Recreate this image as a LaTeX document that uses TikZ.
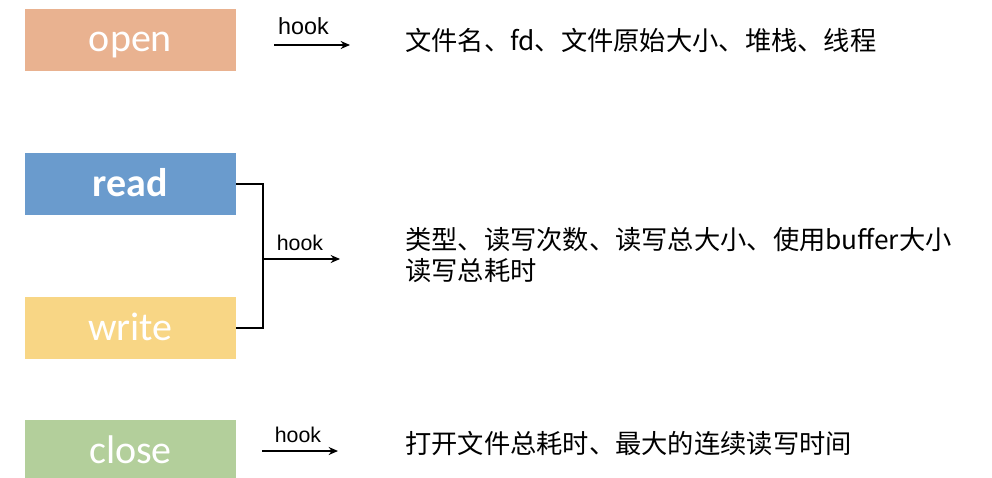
\documentclass[tikz,border=0pt]{standalone}
\usepackage{fontspec}
\usetikzlibrary{arrows.meta}
\newfontfamily\boxfont{Carlito}
\newfontfamily\hookfont{Liberation Sans}
\newfontfamily\cjk{Noto Sans CJK SC}
\definecolor{openc}{HTML}{E9B290}
\definecolor{readc}{HTML}{6A9BCD}
\definecolor{writec}{HTML}{F8D685}
\definecolor{closec}{HTML}{B3CF9B}
\begin{document}
\begin{tikzpicture}[x=0.75pt,y=-0.75pt,
	box/.style={rectangle,minimum width=158pt,minimum height=47pt,inner sep=0pt,text=white,text height=18pt,text depth=0pt,font=\boxfont\fontsize{30}{32}\selectfont},
	arrow/.style={-{Stealth[length=7pt,width=6pt]},line width=1.6pt},
	hooktxt/.style={font=\hookfont\fontsize{16}{18}\selectfont,inner sep=0pt,anchor=base},
	info/.style={anchor=west,inner sep=0pt,align=left,font=\cjk\fontsize{19.7}{23}\selectfont}]
	\useasboundingbox (0,0) rectangle (992,478);
	\fill[white] (0,0) rectangle (992,478);
	\foreach \nm/\txt/\col/\yy in {open/open/openc/40,read/\bfseries read/readc/184,write/write/writec/328,close/close/closec/451}
	\node[box,fill=\col] (\nm) at (130.5,\yy) {\txt};
	
	\node[info] (openinfo) at (405,40) {文件名、fd、文件原始大小、堆栈、线程};
	\node[info] (rwinfo) at (405,255) {类型、读写次数、读写总大小、使用buffer大小\\读写总耗时};
	\node[info] (closeinfo) at (405,443) {打开文件总耗时、最大的连续读写时间};
	
	\coordinate (o1) at (274,45); \coordinate (o2) at (350,45);
	\coordinate (j) at (263,259); \coordinate (j2) at (340,259);
	\coordinate (c1) at (262,451); \coordinate (c2) at (338,451);
	\draw[arrow] (o1)--(o2);
	\draw[line width=1.8pt] (read.east)-|(j)|-(write.east);
	\draw[arrow] (j)--(j2);
	\draw[arrow] (c1)--(c2);
	\node[hooktxt,font=\hookfont\fontsize{17.5}{19}\selectfont] (h1) at (303.5,35) {hook};
	\node[hooktxt] (h2) at (300,250) {hook};
	\node[hooktxt] (h3) at (298,442) {hook};
\end{tikzpicture}
\end{document}
